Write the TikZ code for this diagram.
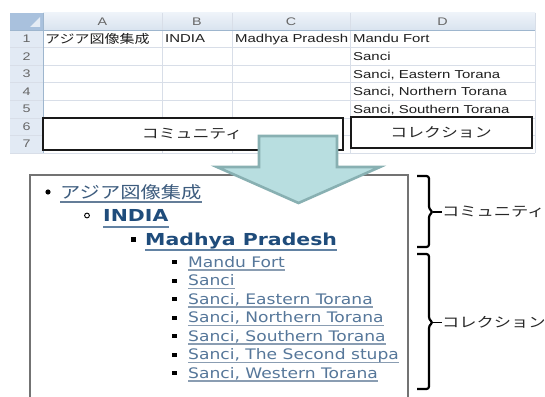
\documentclass[tikz,border=0pt]{standalone}
\usepackage{fontspec}
\newfontfamily\xlfont{Liberation Sans}[FakeStretch=1.3]
\newfontfamily\xljp{Noto Sans CJK JP}[FakeStretch=1.25]
\newfontfamily\webfont{DejaVu Sans}[FakeStretch=1.18]
\newfontfamily\webbold{DejaVu Sans}[FakeStretch=1.24]
\newfontfamily\webjp{Noto Sans CJK JP}[FakeStretch=1.23]
\definecolor{gridc}{HTML}{D8DEE8}
\definecolor{hdrtop}{HTML}{EEF3F9}
\definecolor{hdrbot}{HTML}{D9E3EF}
\definecolor{rowhdr}{HTML}{E2EAF4}
\definecolor{cornerc}{HTML}{A9C1DD}
\definecolor{hdrline}{HTML}{9EB6CE}
\definecolor{arrowfill}{HTML}{B8DEE0}
\definecolor{arrowline}{HTML}{88B0B2}
\definecolor{linkjp}{HTML}{3D5C7E}
\definecolor{linkbold}{HTML}{1F4C7B}
\definecolor{linkitem}{HTML}{56779A}
\definecolor{ulitem}{HTML}{8A9DB2}
\begin{document}
\begin{tikzpicture}[x=1pt,y=-1pt,
  grid/.style={draw=gridc,line width=0.8pt},
  cell/.style={font=\xlfont\fontsize{11.5}{13}\selectfont,text=black!88,inner sep=0pt,anchor=base west},
  celljp/.style={font=\xljp\fontsize{12}{14}\selectfont,text=black!88,inner sep=0pt,anchor=base west},
  colhdr/.style={font=\xlfont\fontsize{11}{13}\selectfont,text=black!60,inner sep=0pt},
  rowlbl/.style={font=\xlfont\fontsize{11}{13}\selectfont,text=black!60,inner sep=0pt},
  labelbox/.style={draw=black!90,line width=1.1pt,fill=white},
  boxtext/.style={font=\xljp\fontsize{13.5}{15}\selectfont,text=black!85,inner sep=0pt},
  sidetext/.style={font=\xljp\fontsize{13.8}{15}\selectfont,text=black!85,inner sep=0pt,anchor=west},
  listjp/.style={font=\webjp\fontsize{16.5}{18}\selectfont,text=linkjp,inner sep=0pt,anchor=base west},
  listbold/.style={font=\webbold\bfseries\fontsize{16.5}{18}\selectfont,text=linkbold,inner sep=0pt,anchor=base west},
  listitem/.style={font=\webfont\fontsize{14.5}{16}\selectfont,text=linkitem,inner sep=0pt,anchor=base west},
  ulbold/.style={draw=linkbold!70,line width=1.6pt},
  uljp/.style={draw=linkjp!80,line width=1.5pt},
  ulit/.style={draw=ulitem,line width=1.5pt},
  sqbullet/.style={fill=black,draw=none},
  bracestyle/.style={draw=black,line width=2.2pt,rounded corners=2.5pt,line join=round}]
\useasboundingbox (0,0) rectangle (545,396);
\fill[white] (0,0) rectangle (545,396);

% ---------------- spreadsheet ----------------
\shade[top color=hdrtop,bottom color=hdrbot] (43,13) rectangle (535,30);
\fill[rowhdr] (10,30) rectangle (43,153);
\fill[cornerc] (10,13) rectangle (43,30);
\fill[white!70!cornerc] (40,17) -- (40,27) -- (30,27) -- cycle;
\foreach \yy in {47.6,65.2,82.8,100.4,118,135.6,153.2}
  \draw[grid] (10,\yy) -- (535,\yy);
\foreach \xx in {43,162,232,350,535}
  \draw[grid] (\xx,13) -- (\xx,153.2);
\draw[draw=hdrline,line width=0.8pt] (10,30) -- (535,30);
\draw[draw=hdrline,line width=0.8pt] (43,13) -- (43,153.2);

\node[colhdr] (hA) at (102.5,21.5) {A};
\node[colhdr] (hB) at (197,21.5) {B};
\node[colhdr] (hC) at (291,21.5) {C};
\node[colhdr] (hD) at (442.5,21.5) {D};
\node[rowlbl] (r1) at (26.5,38.8) {1};
\node[rowlbl] (r2) at (26.5,56.4) {2};
\node[rowlbl] (r3) at (26.5,74) {3};
\node[rowlbl] (r4) at (26.5,91.6) {4};
\node[rowlbl] (r5) at (26.5,109.2) {5};
\node[rowlbl] (r6) at (26.5,127) {6};
\node[rowlbl] (r7) at (26.5,144) {7};

\node[celljp] (a1) at (45,43.5) {アジア図像集成};
\node[cell] (b1) at (165,43) {INDIA};
\node[cell] (c1) at (235,43) {Madhya Pradesh};
\node[cell] (d1) at (353,43) {Mandu Fort};
\node[cell] (d2) at (353,60.6) {Sanci};
\node[cell] (d3) at (353,78.2) {Sanci, Eastern Torana};
\node[cell] (d4) at (353,95.8) {Sanci, Northern Torana};
\node[cell] (d5) at (353,113.4) {Sanci, Southern Torana};

\draw[labelbox] (43,118) rectangle (343,150);
\node[boxtext] (comm) at (192,133.5) {コミュニティ};
\draw[labelbox] (351,117) rectangle (532,148);
\node[boxtext] (coll) at (441,132.5) {コレクション};

% ---------------- list box ----------------
\draw[draw=black!55,line width=1.6pt,fill=white] (30,175) rectangle (408,402);

\fill[black] (48,192) circle (2.6);
\node[listjp] (jp) at (60,198.5) {アジア図像集成};
\draw[uljp] ([yshift=-3.5pt]jp.base west) -- ([yshift=-3.5pt]jp.base east);

\draw[black,line width=0.9pt,fill=white] (87,215.5) circle (2.4);
\node[listbold] (india) at (103,221.7) {INDIA};
\draw[ulbold] ([yshift=-5.5pt]india.base west) -- ([yshift=-5.5pt]india.base east);

\fill[sqbullet] (130.5,237) rectangle (135.5,242);
\node[listbold] (mp) at (145,245.7) {Madhya Pradesh};
\draw[ulbold] ([yshift=-4.5pt]mp.base west) -- ([yshift=-4.5pt]mp.base east);

\foreach \nm/\yc/\txt in {i1/262/Mandu Fort, i2/280.5/Sanci, i3/299/{Sanci, Eastern Torana},
   i4/317.5/{Sanci, Northern Torana}, i5/336/{Sanci, Southern Torana},
   i6/354.5/{Sanci, The Second stupa}, i7/373/{Sanci, Western Torana}}{
  \fill[sqbullet] (172.3,\yc-2) rectangle (176.7,\yc+2.4);
  \node[listitem] (\nm) at (188,\yc+5) {\txt};
  \draw[ulit] ([yshift=-3pt]\nm.base west) -- ([yshift=-3pt]\nm.base east);
}

% ---------------- arrow ----------------
\draw[draw=arrowline,line width=2.6pt,fill=arrowfill,line join=miter]
  (259,136) -- (337,136) -- (337,167) -- (380,167) -- (298.5,203) -- (217,167) -- (259,167) -- cycle;

% ---------------- braces ----------------
\node[sidetext] (sc) at (442,212) {コミュニティ};
\node[sidetext] (sl) at (442,322.5) {コレクション};
\coordinate (b1t) at (417,176);
\coordinate (b1b) at (417,247);
\coordinate (b2t) at (417,254);
\coordinate (b2b) at (417,389);
\draw[bracestyle] (b1t) -- (429,176) -- (429,209) -- (433,212) -- (429,215) -- (429,247) -- (b1b);
\draw[line width=1.3pt] (433,212) -- (sc.west);
\draw[bracestyle] (b2t) -- (429,254) -- (429,319.5) -- (433,322.5) -- (429,325.5) -- (429,389) -- (b2b);
\draw[line width=1.3pt] (433,322.5) -- (sl.west);
\end{tikzpicture}
\end{document}
